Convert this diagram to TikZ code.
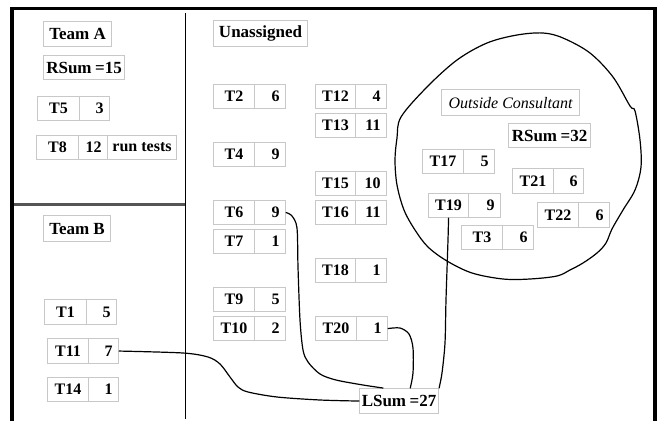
\documentclass[tikz,border=0pt]{standalone}
\usepackage{fontspec}
\setmainfont{Liberation Serif}
\usetikzlibrary{calc}
\definecolor{cellgray}{RGB}{200,200,200}
\definecolor{divgray}{RGB}{85,85,85}
\tikzset{
  cell/.style={draw=cellgray, line width=1.1pt, inner sep=0pt, anchor=north west,
    font=\fontsize{16}{18}\selectfont\bfseries},
  headbox/.style={cell, font=\fontsize{17}{19}\selectfont\bfseries},
  scriptbox/.style={cell, font=\fontsize{16}{18}\selectfont\itshape},
  conn/.style={draw=black, line width=1.2pt, line cap=round, line join=round},
  blobline/.style={draw=black, line width=1.2pt, line join=round},
  frameline/.style={draw=black, line width=3.5pt}
}
\newcommand\taskrow[8]{% name, x1, xd, x2, ytop, ybot, label, value
  \pgfmathsetmacro\wa{#3-#2}%
  \pgfmathsetmacro\wb{#4-#3}%
  \pgfmathsetmacro\tw{#4-#3-12}%
  \pgfmathsetmacro\hh{#6-#5}%
  \node[cell, minimum width=\wa pt, minimum height=\hh pt] (#1a) at (#2,#5) {#7};
  \node[cell, minimum width=\wb pt, minimum height=\hh pt, text width=\tw pt, align=right] (#1b) at (#3,#5) {#8};
}
\newcommand\labelbox[7]{% style, name, x1, x2, ytop, ybot, text
  \pgfmathsetmacro\wa{#4-#3}%
  \pgfmathsetmacro\hh{#6-#5}%
  \node[#1, minimum width=\wa pt, minimum height=\hh pt] (#2) at (#3,#5) {#7};
}
\begin{document}
\begin{tikzpicture}[x=1pt, y=-1pt]
\useasboundingbox (0,0) rectangle (657,421);
% frame and dividers
\draw[frameline] (12,421) -- (12,8.5) -- (655,8.5) -- (655,421);
\draw[black, line width=1.5pt] (185.5,13) -- (185.5,419);
\draw[divgray, line width=2.5pt] (14,204.5) -- (185,204.5);

% headers
\labelbox{headbox}{teamA}{43}{111}{21}{46}{Team A}
\labelbox{headbox}{rsumA}{43}{124}{55}{79}{RSum\kern3.5pt=15}
\labelbox{headbox}{unassigned}{213}{307}{20}{46}{Unassigned}
\labelbox{headbox}{teamB}{43}{110}{215}{241}{Team B}
\labelbox{scriptbox}{outside}{441}{579}{89}{115}{Outside Consultant}
\labelbox{headbox}{rsumO}{508}{590}{123}{147}{RSum\kern3.5pt=32}
\labelbox{headbox}{lsum}{359}{438}{388}{413}{LSum\kern3.5pt=27}

% Team A
\taskrow{t5}{37}{79}{109}{96}{120}{T5}{3}
\taskrow{t8}{36}{78}{107}{135}{159}{T8}{12}
\labelbox{cell}{t8c}{107}{176}{135}{159}{run tests}

% Team B
\taskrow{t1}{44}{86}{116}{299}{324}{T1}{5}
\taskrow{t11}{47}{88}{118}{338}{363}{T11}{7}
\taskrow{t14}{47}{88}{118}{377}{401}{T14}{1}

% Unassigned column 1
\taskrow{t2}{213}{254}{285}{84}{108}{T2}{6}
\taskrow{t4}{213}{254}{285}{142}{166}{T4}{9}
\taskrow{t6}{213}{254}{285}{200}{224}{T6}{9}
\taskrow{t7}{213}{254}{285}{229}{253}{T7}{1}
\taskrow{t9}{213}{254}{285}{287}{311}{T9}{5}
\taskrow{t10}{213}{254}{285}{316}{340}{T10}{2}

% Unassigned column 2
\taskrow{t12}{315}{355}{386}{84}{108}{T12}{4}
\taskrow{t13}{315}{355}{386}{113}{137}{T13}{11}
\taskrow{t15}{315}{355}{386}{171}{195}{T15}{10}
\taskrow{t16}{315}{355}{386}{200}{224}{T16}{11}
\taskrow{t18}{315}{355}{386}{258}{282}{T18}{1}
\taskrow{t20}{315}{356}{387}{316}{340}{T20}{1}

% Outside consultant
\taskrow{t17}{422}{463}{494}{149}{173}{T17}{5}
\taskrow{t21}{512}{553}{583}{168}{193}{T21}{6}
\taskrow{t19}{428}{468}{500}{193}{217}{T19}{9}
\taskrow{t22}{537}{578}{609}{202}{227}{T22}{6}
\taskrow{t3}{461}{502}{533}{225}{249}{T3}{6}

% blob
\draw[blobline] plot[smooth cycle, tension=0.55] coordinates {
  (401,117) (427,87) (457,60) (487,43) (517,35) (543,33) (563,38) (590,53)
  (613,77) (630,106) (635,111) (640,140) (641,167) (635,190) (623,210)
  (612,229) (606,243) (597,253) (583,263) (570,270) (557,276) (530,279)
  (503,279) (472,273) (447,261) (428,247) (415,230) (404,210) (397,185)
  (395,160) (397,138)};

% connectors
\coordinate (l1) at ($(lsum.north west)!0.30!(lsum.north east)$);
\coordinate (l3) at ($(lsum.north west)!0.64!(lsum.north east)$);
\draw[conn] plot[smooth, tension=0.5] coordinates {
  (t6b.east) (292,216) (297,228) (298,267) (300,320) (303,350) (308,362)
  (320,374) (336,380) (363,385) (l1)};
\draw[conn] plot[smooth, tension=0.5] coordinates {
  (t11b.east) (183,353) (208,357) (220,364) (230,377) (238,387) (248,392)
  (277,397) (320,400) (lsum.west)};
\draw[conn] plot[smooth, tension=0.5] coordinates {
  (t20b.east) (400,328) (409,334) (413,348) (413,373) (l3)};
\draw[conn] plot[smooth, tension=0.5] coordinates {
  (t19a.south) (448,240) (446,300) (445,343) (442,373) (lsum.north east)};
\end{tikzpicture}
\end{document}
